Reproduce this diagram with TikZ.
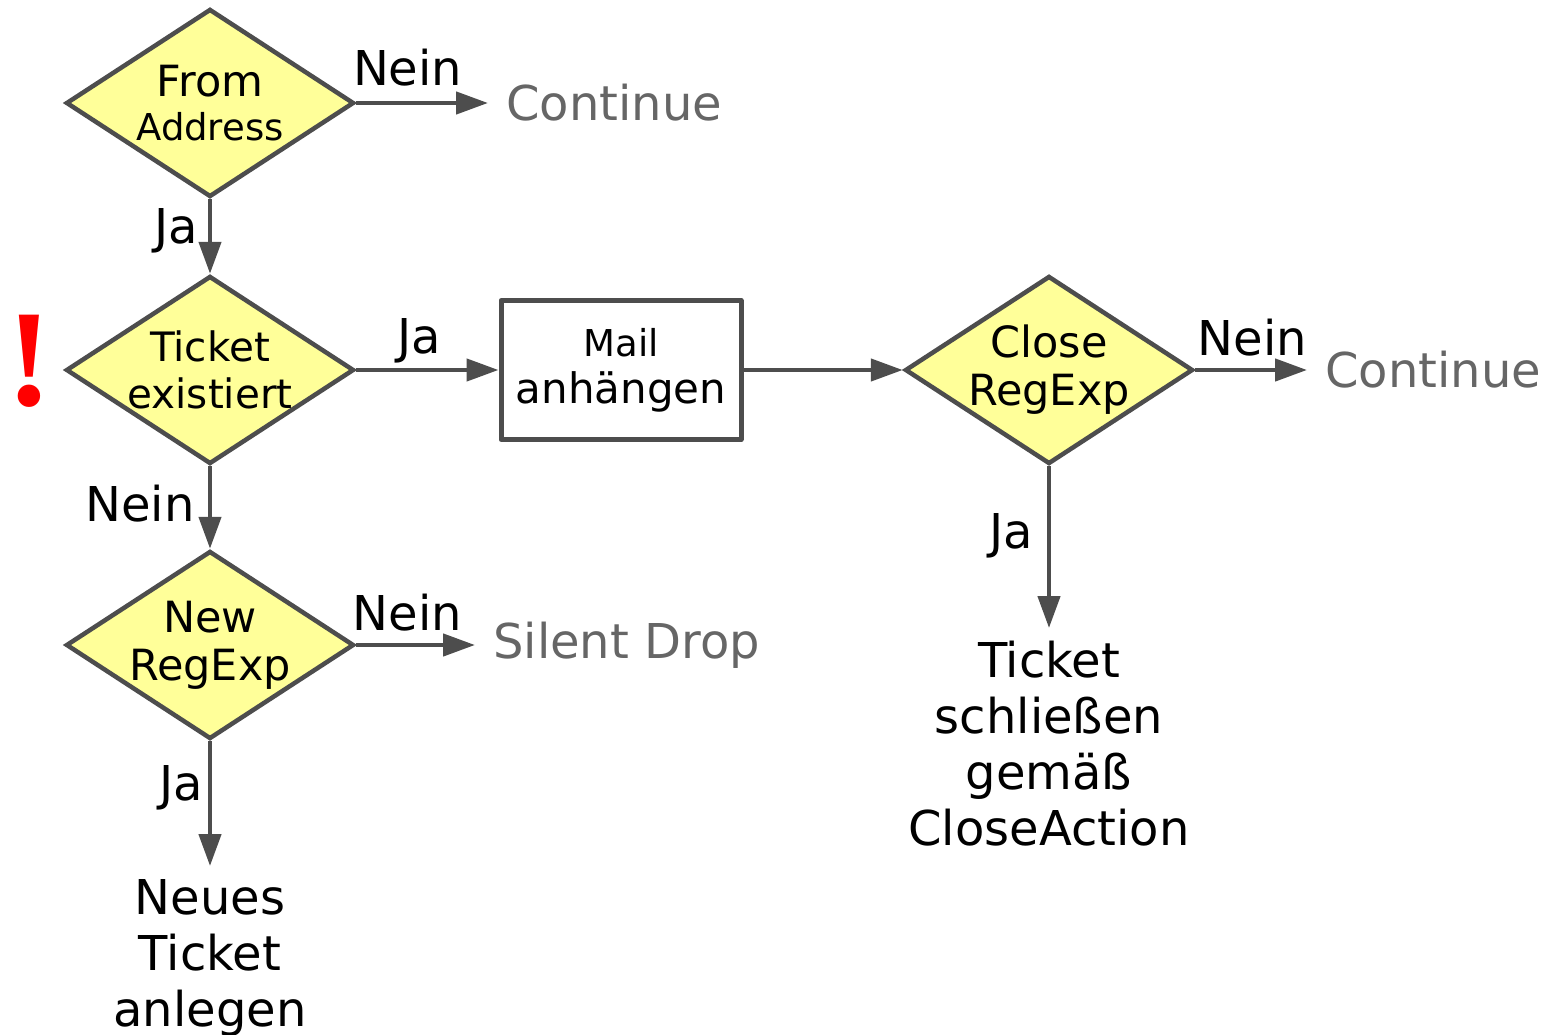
\documentclass[tikz,border=0pt]{standalone}
\usepackage{fontspec}
\setmainfont{DejaVu Sans}
\newfontfamily\markfont{Liberation Serif}
\usetikzlibrary{shapes.geometric,arrows.meta}
\definecolor{linegray}{HTML}{4D4D4D}
\definecolor{paleyellow}{HTML}{FFFF99}
\definecolor{textgray}{HTML}{666666}
\begin{document}
\begin{tikzpicture}[x=1pt,y=-1pt]

% Style for nodes
\tikzstyle{decision}=[diamond,draw=linegray,line width=4.5pt,fill=paleyellow,inner sep=0,minimum width=288pt,minimum height=188pt]
\tikzstyle{action}=[rectangle,draw=linegray,line width=5pt,line join=round,minimum width=240pt,minimum height=139pt,align=center,inner sep=0]
\tikzstyle{inside}=[align=center,inner sep=0,font=\fontsize{43}{48}\selectfont]
\tikzstyle{outcome}=[align=center,inner xsep=0,inner ysep=13pt,font=\fontsize{48}{56}\selectfont]
\tikzstyle{leave}=[anchor=west,inner xsep=18pt,inner ysep=0,text=textgray,font=\fontsize{48}{56}\selectfont]
\tikzstyle{answer}=[inner sep=0,font=\fontsize{48}{56}\selectfont]
\tikzstyle{flow}=[draw=linegray,line width=4.5pt,-{Triangle[length=32pt,width=22pt]}]

\useasboundingbox (0,0) rectangle (1546,1035);

% The Chart
\node(0)[decision,label={[inside]center:From\\[-4pt]{\fontsize{37}{40}\selectfont Address}}] at (210,103){};
\node(1)[decision,label={[inside,font=\fontsize{40.5}{47}\selectfont]center:Ticket\\existiert}] at (210,370){};
\node(2)[decision,label={[inside]center:New\\RegExp}] at (210,645){};
\node(3)[action,font=\fontsize{42}{47}\selectfont] at (621,370){{\fontsize{37}{40}\selectfont Mail}\\anhängen};
\node(4)[decision,label={[inside]center:Close\\RegExp}] at (1049,370){};
\node(5)[leave] at (488,103){Continue};
\node(6)[leave] at (1307,370){Continue};
\node(7)[leave] at (475,645){Silent Drop};
\node(8)[outcome,anchor=north] at (210,866){Neues\\Ticket\\anlegen};
\node(9)[outcome,anchor=north] at (1049,628){Ticket\\schließen\\gemäß\\CloseAction};
\node(10)[text=red,inner sep=0,font=\fontsize{138}{140}\markfont\bfseries] at (29,361){!};

\draw[flow] (0.east) -- node[answer,pos=0.39,anchor=base,yshift=17pt]{Nein} (5.west);
\draw[flow] (0.south) -- node[answer,pos=0.42,left=10pt]{Ja} (1.north);
\draw[flow] (1.east) -- node[answer,pos=0.44,anchor=base,yshift=17pt]{Ja} (3.west);
\draw[flow] (3.east) -- (4.west);
\draw[flow] (4.east) -- node[answer,pos=0.51,anchor=base,yshift=15pt]{Nein} (6.west);
\draw[flow] (1.south) -- node[answer,pos=0.45,left=13pt]{Nein} (2.north);
\draw[flow] (2.east) -- node[answer,pos=0.43,anchor=base,yshift=15pt]{Nein} (7.west);
\draw[flow] (2.south) -- node[answer,pos=0.37,left=5pt]{Ja} (8.north);
\draw[flow] (4.south) -- node[answer,pos=0.43,left=14pt]{Ja} (9.north);
\end{tikzpicture}
\end{document}
